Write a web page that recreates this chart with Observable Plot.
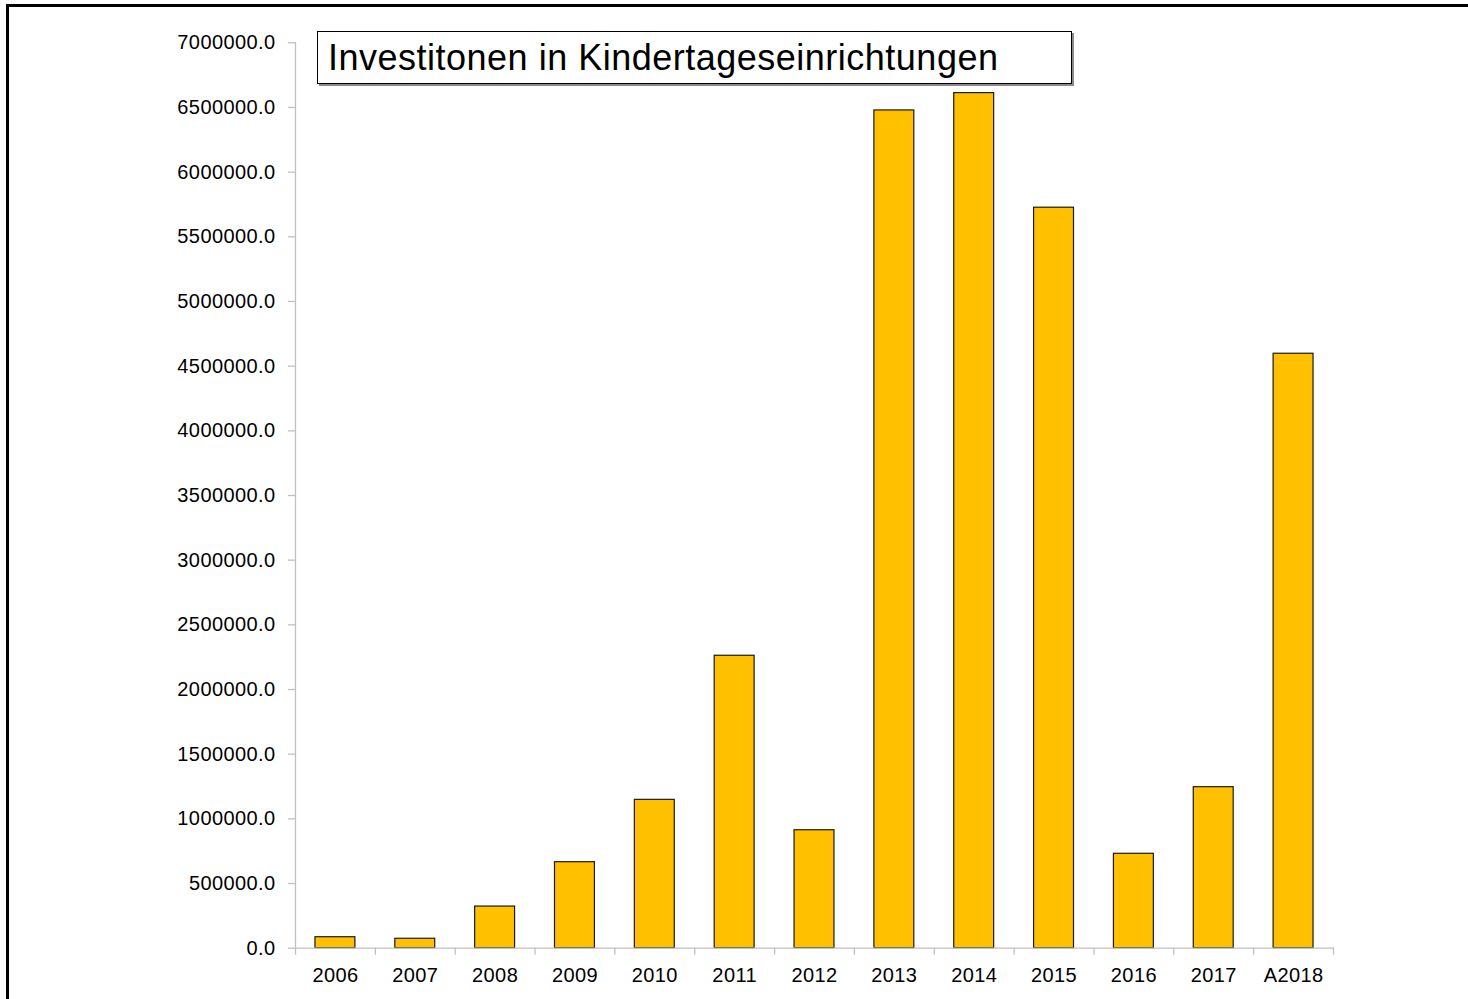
<!DOCTYPE html>
<html>
<head>
<meta charset="utf-8">
<script src="https://cdn.jsdelivr.net/npm/d3@7"></script>
<script src="https://cdn.jsdelivr.net/npm/@observablehq/plot@0.6"></script>
<style>
  html, body { margin: 0; padding: 0; background: #fff; }
  #wrap { position: relative; width: 1468px; height: 999px; overflow: hidden; font-family: "Liberation Sans", Arial, sans-serif; }
  #frame { position: absolute; left: 6px; top: 4px; width: 2000px; height: 2000px; border: 3px solid #000; box-sizing: border-box; pointer-events: none; }
  #title { position: absolute; left: 317px; top: 31px; width: 755px; height: 53px; box-sizing: border-box; border: 1px solid #000; box-shadow: 2px 2px 0 #8a8a8a; background: #fff; font-size: 36px; line-height: 51px; padding-left: 10px; letter-spacing: 0.5px; color: #000; white-space: nowrap; }
  #chart { position: absolute; left: 0; top: 0; }
</style>
</head>
<body>
<div id="wrap">
  <div id="chart"></div>
  <div id="frame"></div>
  <div id="title">Investitonen in Kindertageseinrichtungen</div>
</div>
<script>
const years = ["2006","2007","2008","2009","2010","2011","2012","2013","2014","2015","2016","2017","A2018"];
const values = [85000, 73000, 322000, 665000, 1147000, 2261000, 912000, 6477000, 6611000, 5725000, 730000, 1245000, 4596000];
const yTicks = d3.range(0, 7000001, 500000);

const data = years.map((y, i) => ({year: y, value: values[i]}));

const W = 1468, H = 999;
const mL = 295, mR = 135, mT = 42.3, mB = 51.3;
const step = (W - mL - mR) / years.length;
const axisGray = "#c0c0c0";

const plot = Plot.plot({
  width: W,
  height: H,
  marginLeft: mL,
  marginRight: mR,
  marginTop: mT,
  marginBottom: mB,
  style: {fontFamily: "'Liberation Sans', Arial, sans-serif", fontSize: "20px", color: "#000", background: "transparent", overflow: "visible"},
  x: {type: "band", domain: years, paddingInner: 0.5, paddingOuter: 0.25, round: false, label: null},
  y: {domain: [0, 7000000], label: null},
  marks: [
    Plot.barY(data, {x: "year", y: "value", fill: "#FFC000", stroke: "#1a1a1a", strokeWidth: 1.2}),
    Plot.frame({anchor: "left", stroke: axisGray, strokeWidth: 1.3}),
    Plot.frame({anchor: "bottom", stroke: axisGray, strokeWidth: 1.3}),
    Plot.ruleX(years, {x: d => d, y1: 0, y2: 0, insetBottom: -7, dx: -step / 2, stroke: axisGray, strokeWidth: 1.3}),
    Plot.ruleX(years.slice(-1), {x: d => d, y1: 0, y2: 0, insetBottom: -7, dx: step / 2, stroke: axisGray, strokeWidth: 1.3}),
    Plot.axisY({ticks: yTicks, tickFormat: d3.format(".1f"), tickSize: 7, tickPadding: 13, stroke: axisGray, fill: "#000", strokeWidth: 1.3, fontSize: 20, label: null}),
    Plot.axisX({tickSize: 0, tickPadding: 20, fill: "#000", fontSize: 20, label: null})
  ]
});
plot.querySelectorAll("text").forEach(t => t.style.letterSpacing = "0.4px");
document.getElementById("chart").appendChild(plot);
</script>
</body>
</html>
